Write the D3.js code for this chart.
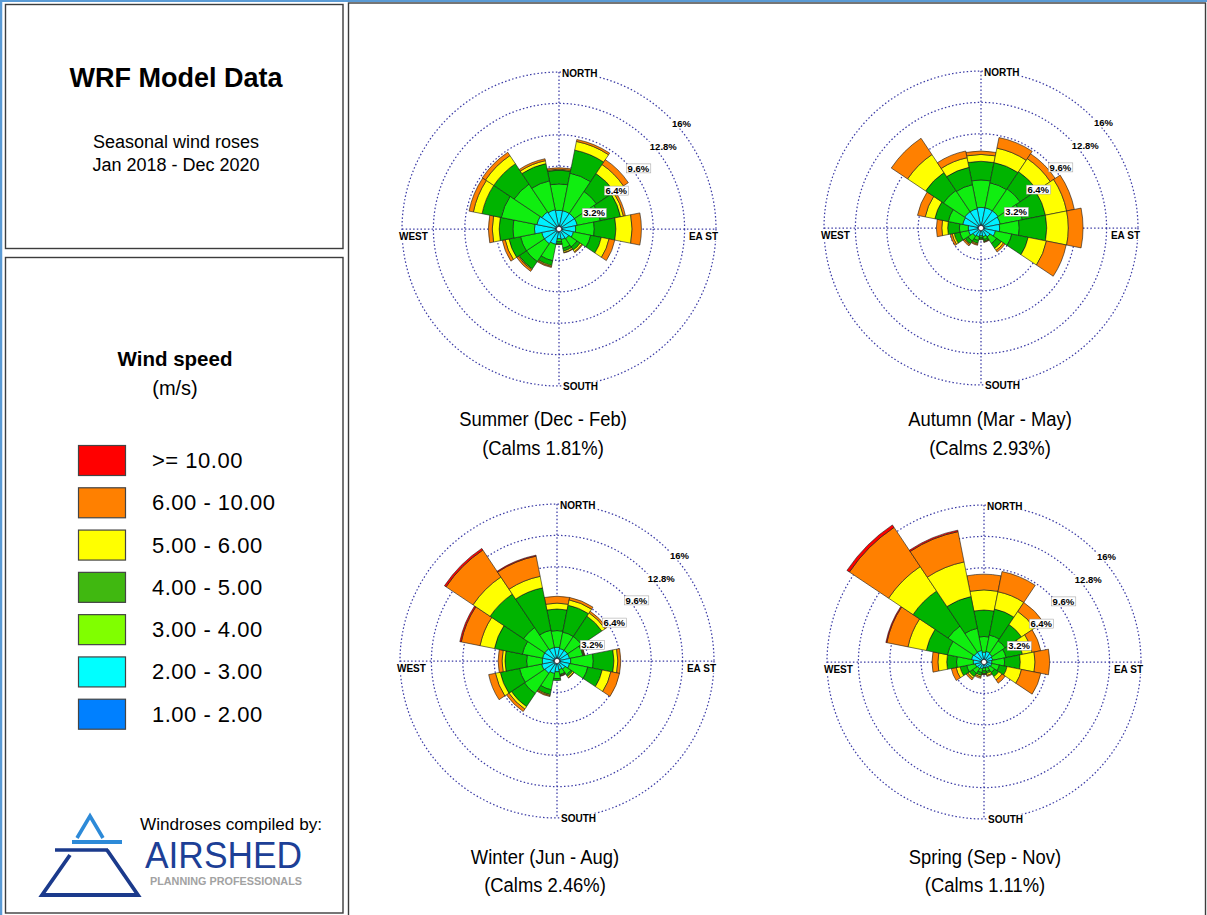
<!DOCTYPE html>
<html>
<head>
<meta charset="utf-8">
<script src="https://cdn.jsdelivr.net/npm/d3@7"></script>
<style>
  body { margin: 0; background: #fff; }
  svg { display: block; }
  text { font-family: "Liberation Sans", Arial, Helvetica, sans-serif; fill: #000; }
</style>
</head>
<body>
<svg id="chart" width="1207" height="915"></svg>
<script>
// ---------------------------------------------------------------
// Data
// ---------------------------------------------------------------
const directions = ["N","NNE","NE","ENE","E","ESE","SE","SSE","S","SSW","SW","WSW","W","WNW","NW","NNW"];

// speed classes, slowest first (stack order of each petal)
const speedClasses = ["1.00 - 2.00","2.00 - 3.00","3.00 - 4.00","4.00 - 5.00","5.00 - 6.00","6.00 - 10.00",">= 10.00"];

const ringTicks  = [3.2, 6.4, 9.6, 12.8, 16];
const ringLabels = ["3.2%", "6.4%", "9.6%", "12.8%", "16%"];

const seasonTitles = ["Summer (Dec - Feb)", "Autumn (Mar - May)", "Winter (Jun - Aug)", "Spring (Sep - Nov)"];
const calmPercent  = [1.81, 2.93, 2.46, 1.11];

// frequency (%) per direction (N clockwise), one value per speed class
const summerFreq = [
  [0.35,1.55,2.7,1.4,0.1,0.15,0],
  [0.35,1.55,3.9,2.4,0.9,0.2,0],
  [0.35,1.55,2.7,2.2,1.1,0.6,0],
  [0.35,1.55,2.4,2.1,0.3,0.2,0],
  [0.35,1.35,1.9,2.2,1.65,0.95,0],
  [0.35,1.15,1.8,1.1,0.8,0.6,0],
  [0.3,0.9,1.0,0.4,0.2,0.1,0],
  [0.3,0.8,0.9,0.3,0.15,0.05,0],
  [0.3,0.7,0.3,0.25,0.05,0,0],
  [0.35,1.25,1.7,0.5,0.1,0.1,0],
  [0.35,1.45,2.2,0.9,0.1,0.2,0],
  [0.35,1.45,2.2,1.2,0.4,0.3,0],
  [0.35,2.15,2.2,1.4,0.7,0.4,0],
  [0.35,1.95,3.7,2.0,0.9,0.45,0],
  [0.35,1.75,3.4,2.5,1.0,0.4,0],
  [0.35,1.65,3.0,1.8,0.3,0.2,0]
];

const autumnFreq = [
  [0.35,1.75,2.8,1.9,0.7,0.35,0],
  [0.35,1.75,2.6,2.1,1.5,1.1,0],
  [0.35,1.75,2.7,2.1,1.6,0.6,0],
  [0.35,1.65,2.3,2.4,2.2,0.8,0],
  [0.35,1.55,2.0,2.8,2.2,1.5,0],
  [0.35,1.15,1.7,1.7,1.9,2.05,0],
  [0.3,0.8,0.8,0.6,0.25,0.2,0],
  [0.3,0.6,0.3,0.2,0.05,0.05,0],
  [0.3,0.5,0.2,0.15,0.05,0,0],
  [0.3,0.6,0.4,0.3,0.1,0.1,0],
  [0.3,0.7,0.6,0.35,0.1,0.15,0],
  [0.35,0.95,0.9,0.6,0.2,0.2,0],
  [0.35,0.95,0.9,1.2,0.6,0.55,0],
  [0.35,1.55,1.5,1.4,1.0,0.8,0],
  [0.35,1.65,2.6,2.2,2.2,2.0,0],
  [0.35,1.65,2.5,1.8,1.0,0.7,0]
];

const winterFreq = [
  [0.35,1.05,1.7,2.2,0.6,0.7,0],
  [0.35,0.95,1.7,2.8,0.55,0.25,0],
  [0.35,0.95,1.7,2.5,0.4,0.2,0],
  [0.35,0.95,1.4,0.1,0.05,0.05,0],
  [0.35,1.05,2.3,2.1,0.4,0.3,0],
  [0.35,0.95,1.9,1.5,0.9,0.9,0],
  [0.3,0.7,0.7,0.2,0.15,0.05,0],
  [0.3,0.6,0.5,0.1,0.05,0.05,0],
  [0.3,0.8,0.7,0.2,0,0,0],
  [0.35,0.95,1.7,0.5,0.1,0.1,0],
  [0.35,1.15,2.5,1.6,0.3,0.3,0],
  [0.35,1.25,2.3,2.0,0.5,0.7,0],
  [0.35,1.15,1.6,2.2,0.3,0.4,0],
  [0.35,1.15,2.1,2.9,1.5,1.95,0.15],
  [0.35,1.15,2.6,4.1,2.1,3.3,0.2],
  [0.35,1.05,1.8,4.4,1.2,2.1,0.1]
];

const springFreq = [
  [0.3,0.7,1.6,2.7,2.05,1.6,0],
  [0.3,0.8,1.7,2.7,1.8,2.1,0],
  [0.3,0.7,1.6,2.0,1.6,1.1,0],
  [0.3,0.6,1.4,1.7,1.0,0.9,0],
  [0.3,0.5,1.3,1.6,1.5,1.5,0],
  [0.3,0.5,0.8,0.8,1.5,2.0,0],
  [0.3,0.4,0.6,0.5,0.4,0.4,0],
  [0.3,0.3,0.4,0.2,0.2,0.1,0],
  [0.3,0.3,0.3,0.3,0.05,0.05,0],
  [0.3,0.4,0.4,0.3,0.15,0.15,0],
  [0.3,0.5,0.6,0.4,0.2,0.2,0],
  [0.3,0.6,0.9,0.7,0.4,0.5,0],
  [0.3,0.8,1.7,1.0,0.9,0.6,0],
  [0.3,1.0,2.5,2.2,1.9,2.2,0.1],
  [0.3,0.9,3.2,4.3,3.0,4.8,0.3],
  [0.3,0.9,2.3,3.3,3.6,3.15,0.15]
];

const seasonFreqs = [summerFreq, autumnFreq, winterFreq, springFreq];

// ---------------------------------------------------------------
// Styles and layout
// ---------------------------------------------------------------
const petalColors  = ["#0a64e6","#00f0ff","#10ee10","#00b400","#ffff00","#ff8000","#ff0000"];
const legendColors = ["#0080ff","#00ffff","#80ff00","#40b810","#ffff00","#ff8000","#ff0000"];
const gridColor = "#3c3ca6";
const gridDash = "1.5,2.2";
const gridWidth = 1.25;

const roseCenters = [[559, 229], [981, 228], [557, 661], [984, 662]];
const titleCenters = [543, 990, 545, 985];
const titleBaselines = [[426, 455], [426, 455], [864, 892], [864, 892]];
const narrow = 0.92;   // horizontal squeeze of the caption font

const svg = d3.select("#chart");

// ---------------------------------------------------------------
// Frames
// ---------------------------------------------------------------
svg.append("line").attr("x1", 0).attr("x2", 1207).attr("y1", 1).attr("y2", 1)
  .attr("stroke", "#5b9bd5").attr("stroke-width", 2);
svg.append("line").attr("x1", 1).attr("x2", 1).attr("y1", 0).attr("y2", 915)
  .attr("stroke", "#5b9bd5").attr("stroke-width", 2.5);

const boxes = [
  {x: 348.5, y: 3, w: 857, h: 913},
  {x: 5.5, y: 4.5, w: 337.5, h: 244},
  {x: 5.5, y: 257.5, w: 337.5, h: 655.5}
];
svg.selectAll("rect.frame").data(boxes).join("rect")
  .attr("class", "frame")
  .attr("x", d => d.x).attr("y", d => d.y).attr("width", d => d.w).attr("height", d => d.h)
  .attr("fill", "none").attr("stroke", "#3c3c3c").attr("stroke-width", 1.4);

// ---------------------------------------------------------------
// Title panel
// ---------------------------------------------------------------
svg.append("text").attr("x", 176).attr("y", 87).attr("text-anchor", "middle")
  .style("font-weight", "bold").style("font-size", "27px").text("WRF Model Data");
svg.append("text").attr("x", 176).attr("y", 148).attr("text-anchor", "middle")
  .style("font-size", "18px").text("Seasonal wind roses");
svg.append("text").attr("x", 176).attr("y", 171).attr("text-anchor", "middle")
  .style("font-size", "18px").text("Jan 2018 - Dec 2020");

// ---------------------------------------------------------------
// Legend
// ---------------------------------------------------------------
svg.append("text").attr("x", 175).attr("y", 366).attr("text-anchor", "middle")
  .style("font-weight", "bold").style("font-size", "20.5px").text("Wind speed");
svg.append("text").attr("x", 175).attr("y", 395).attr("text-anchor", "middle")
  .style("font-size", "20px").text("(m/s)");

const legendItems = speedClasses.map((label, i) => ({label, color: legendColors[i]})).reverse();
const legendY = d3.scaleBand().domain(legendItems.map(d => d.label)).range([445, 741]).paddingInner(0);
const legendRows = svg.selectAll("g.legend-row").data(legendItems).join("g")
  .attr("class", "legend-row")
  .attr("transform", d => `translate(0,${legendY(d.label)})`);
legendRows.append("rect").attr("x", 78.5).attr("y", 0.5).attr("width", 47).attr("height", 30)
  .attr("fill", d => d.color).attr("stroke", "#444").attr("stroke-width", 1.2);
legendRows.append("text").attr("x", 152).attr("y", 23)
  .style("font-size", "22px").style("letter-spacing", "0.5px").text(d => d.label);

// ---------------------------------------------------------------
// Logo
// ---------------------------------------------------------------
svg.append("text").attr("x", 140).attr("y", 830).style("font-size", "16px")
  .attr("textLength", 182).attr("lengthAdjust", "spacingAndGlyphs").text("Windroses compiled by:");
const logo = svg.append("g");
logo.append("path").attr("d", "M77,838 L90,816 L103,838").attr("fill", "none")
  .attr("stroke", "#2d8ad8").attr("stroke-width", 3.6);
logo.append("line").attr("x1", 72).attr("x2", 122).attr("y1", 842).attr("y2", 842)
  .attr("stroke", "#2d8ad8").attr("stroke-width", 4);
logo.append("line").attr("x1", 55).attr("x2", 108).attr("y1", 850).attr("y2", 850)
  .attr("stroke", "#1b3a8c").attr("stroke-width", 3.6);
logo.append("path").attr("d", "M70,855 L42,895 L138,895 L107,850").attr("fill", "none")
  .attr("stroke", "#1b3a8c").attr("stroke-width", 3.8).attr("stroke-linejoin", "miter");
svg.append("text").attr("x", 145).attr("y", 868).style("font-size", "36px").style("fill", "#1d3f96")
  .attr("textLength", 157).attr("lengthAdjust", "spacingAndGlyphs").text("AIRSHED");
svg.append("text").attr("x", 150).attr("y", 885).style("font-size", "10.5px").style("font-weight", "bold")
  .style("fill", "#a2a2a2").attr("textLength", 152).attr("lengthAdjust", "spacingAndGlyphs")
  .text("PLANNING PROFESSIONALS");

// ---------------------------------------------------------------
// Wind roses
// ---------------------------------------------------------------
const rScale = d3.scaleLinear().domain([0, 16]).range([0, 157]);
const angle = d3.scaleBand().domain(directions).range([-Math.PI / 16, 2 * Math.PI - Math.PI / 16]);
const arc = d3.arc();

function labelWithBox(g, x, y, text, opts) {
  const t = g.append("text").attr("x", x).attr("y", y)
    .attr("text-anchor", opts.anchor || "start")
    .style("font-weight", "bold").style("font-size", opts.size).text(text);
  const bb = t.node().getBBox();
  g.insert("rect", () => t.node())
    .attr("x", bb.x - 1).attr("y", bb.y + 1).attr("width", bb.width + 2).attr("height", bb.height - 2)
    .attr("fill", "#fff").attr("stroke", opts.border ? "#999" : "none").attr("stroke-width", 0.5);
}

function captionText(x, y, str) {
  const t = svg.append("text").attr("x", x).attr("y", y).attr("text-anchor", "middle")
    .style("font-size", "20px").text(str);
  const w = t.node().getComputedTextLength();
  t.attr("textLength", w * narrow).attr("lengthAdjust", "spacingAndGlyphs");
}

seasonFreqs.forEach((freq, s) => {
  const [cx, cy] = roseCenters[s];
  const g = svg.append("g").attr("transform", `translate(${cx},${cy})`);
  const R = rScale(16);

  // dotted grid rings and compass axes
  g.selectAll("circle.ring").data(ringTicks).join("circle")
    .attr("class", "ring").attr("r", d => rScale(d))
    .attr("fill", "none").attr("stroke", gridColor).attr("stroke-width", gridWidth)
    .attr("stroke-dasharray", gridDash);
  g.append("line").attr("x1", 0).attr("x2", 0).attr("y1", -R).attr("y2", R)
    .attr("stroke", gridColor).attr("stroke-width", gridWidth).attr("stroke-dasharray", gridDash);
  g.append("line").attr("x1", -R).attr("x2", R).attr("y1", 0).attr("y2", 0)
    .attr("stroke", gridColor).attr("stroke-width", gridWidth).attr("stroke-dasharray", gridDash);

  // stacked petals
  const segs = [];
  freq.forEach((row, i) => {
    const cum = d3.cumsum(row);
    row.forEach((v, k) => {
      if (v <= 0) return;
      segs.push({dir: directions[i], k, lo: cum[k] - v, hi: cum[k]});
    });
  });
  g.selectAll("path.petal").data(segs).join("path")
    .attr("class", "petal")
    .attr("d", d => arc({
      innerRadius: rScale(d.lo), outerRadius: rScale(d.hi),
      startAngle: angle(d.dir), endAngle: angle(d.dir) + angle.bandwidth()
    }))
    .attr("fill", d => petalColors[d.k])
    .attr("stroke", "#1a1a1a").attr("stroke-width", 0.6).attr("stroke-linejoin", "miter");

  // calm centre
  g.append("circle").attr("r", 2.6).attr("fill", "#fff").attr("stroke", "#111").attr("stroke-width", 0.6);

  // ring labels on the 45° diagonal
  ringTicks.forEach((t, i) => {
    const r = rScale(t);
    labelWithBox(g, r * Math.SQRT1_2 + 2, -r * Math.SQRT1_2 + 9.5, ringLabels[i],
      {size: "9.5px", border: i < 3});
  });

  // compass labels
  labelWithBox(g, 3, -R + 4.5, "NORTH", {size: "10px"});
  labelWithBox(g, 4, R + 3.5, "SOUTH", {size: "10px"});
  labelWithBox(g, -R - 3, 11, "WEST", {size: "10px"});
  labelWithBox(g, R + 2, 11, "EA ST", {size: "10px", anchor: "end"});

  // season title and calms
  const tx = titleCenters[s];
  captionText(tx, titleBaselines[s][0], seasonTitles[s]);
  captionText(tx, titleBaselines[s][1], `(Calms ${calmPercent[s].toFixed(2)}%)`);
});
</script>
</body>
</html>
